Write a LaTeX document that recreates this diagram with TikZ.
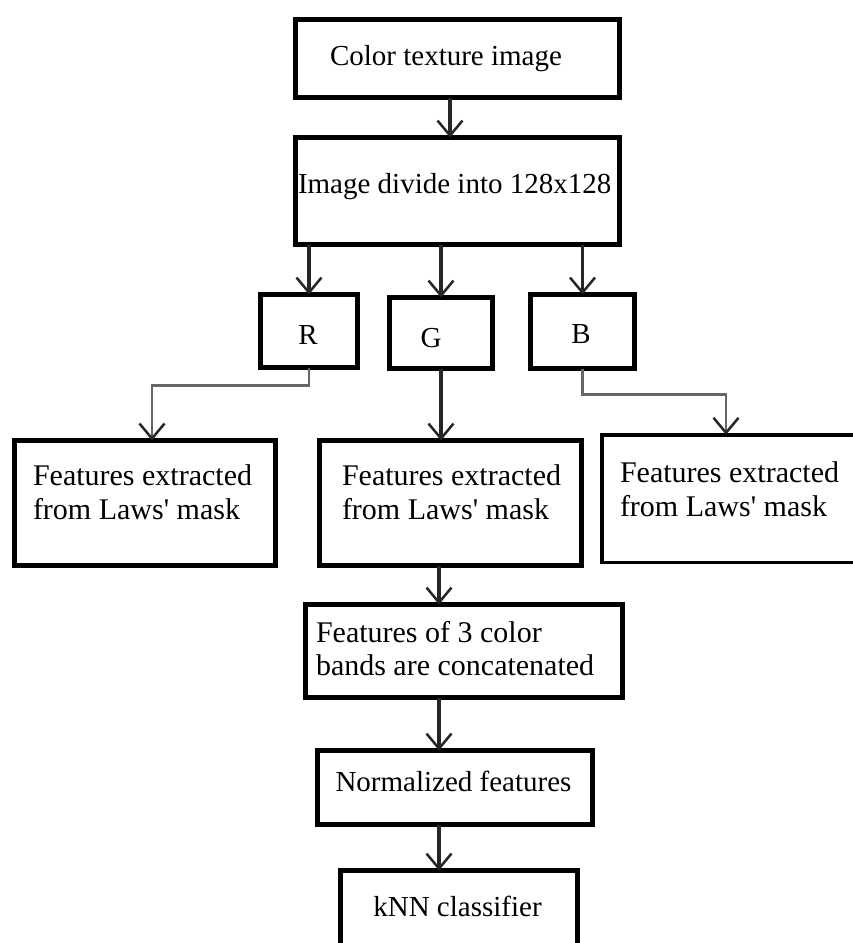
\documentclass[tikz,border=0pt]{standalone}
\usepackage{fontspec}
\setmainfont{Liberation Serif}
\usetikzlibrary{arrows.meta}
\begin{document}
\begin{tikzpicture}[x=1pt,y=-1pt,
  box/.style={draw=black, line width=5pt, inner sep=0pt, outer sep=0pt},
  thinbox/.style={box, line width=3.5pt},
  txt/.style={inner sep=0pt, outer sep=0pt, font=\fontsize{29}{34}\selectfont, align=left},
  bigtxt/.style={txt, font=\fontsize{30}{33.5}\selectfont},
  arr/.style={line width=3.5pt, draw=black!85, -{Straight Barb[length=15pt,width=25pt,line width=2.5pt]}},
  elbow/.style={line width=2.5pt, draw=black!60, -{Straight Barb[length=15pt,width=25pt,line width=2.5pt,color=black!85]}}]
\useasboundingbox (0,0) rectangle (853,943);
\fill[white] (0,0) rectangle (853,943);
\clip (0,0) rectangle (853,943);
% boxes
\node[box, minimum width=324pt, minimum height=78pt] (b1) at (457.5,58.5) {};
\node[box, minimum width=324pt, minimum height=107pt] (b2) at (457.5,191) {};
\node[box, minimum width=97pt, minimum height=73pt] (R) at (309,331) {};
\node[box, minimum width=103pt, minimum height=71pt] (G) at (441,333) {};
\node[box, minimum width=104pt, minimum height=74pt] (B) at (582.5,331.5) {};
\node[box, minimum width=261pt, minimum height=125pt] (FL) at (145,503) {};
\node[box, minimum width=262pt, minimum height=125pt] (FM) at (450.5,503) {};
\node[thinbox, minimum width=254.5pt, minimum height=127.5pt] (FR) at (729,498.5) {};
\node[box, minimum width=317pt, minimum height=93pt] (CC) at (464,651) {};
\node[box, minimum width=275pt, minimum height=74pt] (NF) at (455,787.5) {};
\node[box, minimum width=237pt, minimum height=87pt] (KN) at (459,914) {};
% texts
\node[txt, anchor=base west] (t1) at (330,65) {Color texture image};
\node[txt, anchor=base west] (t2) at (298,193) {Image divide into 128x128};
\node[txt, anchor=base] (tR) at (308,344) {R};
\node[txt, anchor=base] (tG) at (431,347) {G};
\node[txt, anchor=base] (tB) at (581,343) {B};
\node[bigtxt, anchor=north west] (tFL) at (33,465) {Features extracted\\from Laws\textquotesingle{} mask};
\node[bigtxt, anchor=north west] (tFM) at (342,465) {Features extracted\\from Laws\textquotesingle{} mask};
\node[bigtxt, anchor=north west] (tFR) at (620,462) {Features extracted\\from Laws\textquotesingle{} mask};
\node[bigtxt, anchor=north west] (tCC) at (316,621) {Features of 3 color\\bands are concatenated};
\node[txt, anchor=base] (tNF) at (453.5,791) {Normalized features};
\node[txt, anchor=base] (tKN) at (457.5,916) {kNN classifier};
% connectors
\coordinate (c1) at (450,0);
\coordinate (col) at (439,0);
\draw[arr] (b1.south -| c1) -- (b2.north -| c1);
\draw[arr] (R.north |- b2.south) -- (R.north);
\draw[arr] (G.north |- b2.south) -- (G.north);
\draw[arr] (B.north |- b2.south) -- (B.north);
\coordinate (fl) at (152,0);
\coordinate (fr) at (726,0);
\draw[elbow] (R.south) -- ++(0,18) -| (FL.north -| fl);
\draw[elbow] (B.south) -- ++(0,26) -| (FR.north -| fr);
\draw[arr] (G.south) -- (G.south |- FM.north);
\draw[arr] (FM.south -| col) -- (CC.north -| col);
\draw[arr] (CC.south -| col) -- (NF.north -| col);
\draw[arr] (NF.south -| col) -- (KN.north -| col);
\end{tikzpicture}
\end{document}
